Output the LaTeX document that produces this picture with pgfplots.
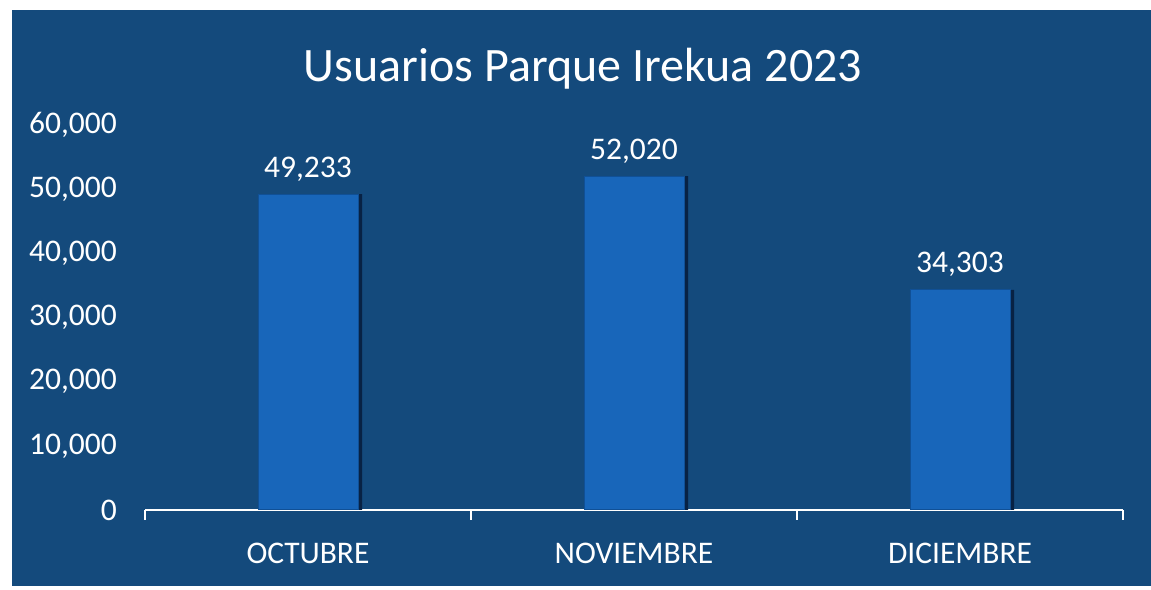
\documentclass[border=0pt]{standalone}
\usepackage{fontspec}
\setmainfont{Carlito}
\usepackage{pgfplots}
\pgfplotsset{compat=1.18}
\definecolor{bg}{RGB}{20,74,124}
\definecolor{barM}{RGB}{24,102,186}
\definecolor{barShadow}{RGB}{8,34,68}
\definecolor{bardark}{RGB}{16,80,150}
\begin{document}
\begin{tikzpicture}[x=1bp,y=1bp]
\fill[white] (0,0) rectangle (1151,590);
\fill[bg] (12,4) rectangle (1151,580);
\node[text=white, font=\fontsize{48bp}{57bp}\selectfont] at (583,521) {Usuarios Parque Irekua 2023};
\begin{axis}[
  at={(145bp,80bp)}, anchor=south west, scale only axis,
  width=978bp, height=385bp,
  xmin=-0.5, xmax=2.5, ymin=0, ymax=60000,
  axis lines*=left,
  x axis line style={white, line width=1.3bp, -},
  y axis line style={draw=none},
  xtick={0,1,2},
  xticklabels={OCTUBRE,NOVIEMBRE,DICIEMBRE},
  minor xtick={-0.5,0.5,1.5,2.5},
  ytick={0,10000,20000,30000,40000,50000,60000},
  major tick length=0pt,
  minor tick length=10bp,
  tick align=outside,
  minor tick style={white, line width=1.3bp},
  major tick style={draw=none},
  tick label style={text=white, font=\fontsize{31.5bp}{38bp}\selectfont},
  xticklabel style={inner sep=0pt, yshift=-33bp},
  yticklabel style={inner sep=0pt, xshift=-28bp},
  /pgf/number format/assume math mode=true,
  /pgf/number format/1000 sep={,},
  scaled y ticks=false,
  clip=false,
]
\addplot[ybar, bar width=100bp, bar shift=4bp, fill=barShadow, draw=none]
  coordinates {(0,49233) (1,52020) (2,34303)};
\addplot[ybar, bar width=100bp, bar shift=0pt, fill=barM, draw=bardark, line width=1bp,
  nodes near coords,
  nodes near coords style={text=white, font=\fontsize{31.5bp}{38bp}\selectfont, anchor=base, inner sep=0pt, yshift=17bp, /pgf/number format/fixed, /pgf/number format/1000 sep={,}}]
  coordinates {(0,49233) (1,52020) (2,34303)};
\end{axis}
\end{tikzpicture}
\end{document}
